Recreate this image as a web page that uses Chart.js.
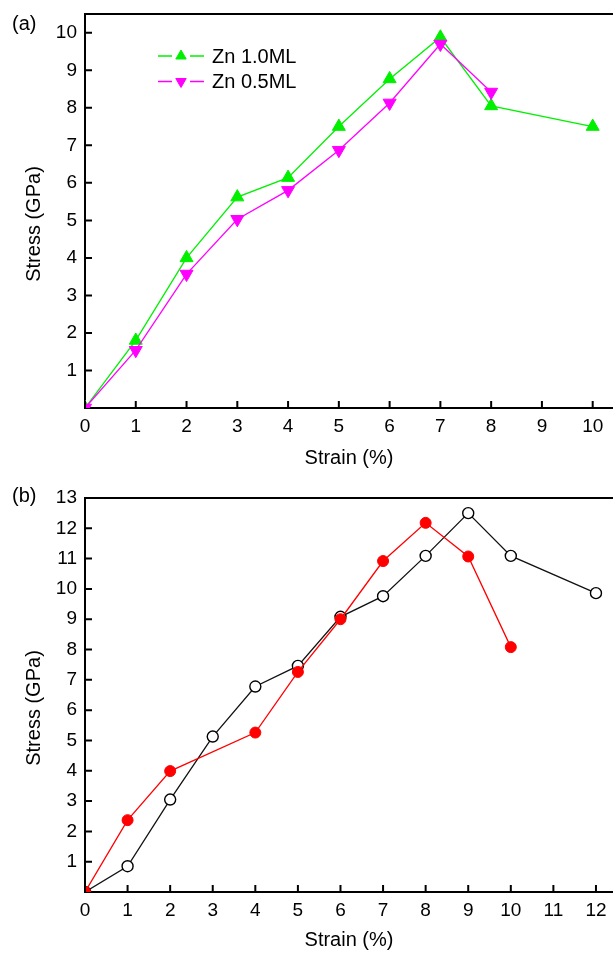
<!DOCTYPE html>
<html>
<head>
<meta charset="utf-8">
<script src="https://cdn.jsdelivr.net/npm/chart.js@4.4.1/dist/chart.umd.min.js"></script>
<style>
  body { margin: 0; background: #fff; }
  #wrap { position: relative; width: 613px; height: 954px; overflow: hidden; }
  canvas { position: absolute; left: 0; }
  .lab { position: absolute; left: 12px; font: 20px "Liberation Sans", Arial, sans-serif; line-height: 20px; color: #000; }
</style>
</head>
<body>
<div id="wrap">
  <canvas id="chartA" width="613" height="472" style="top:0"></canvas>
  <canvas id="chartB" width="613" height="482" style="top:472px"></canvas>
  <div class="lab" style="top:13px">(a)</div>
  <div class="lab" style="top:485px">(b)</div>
</div>
<script>
// panel (a) - Zn
const zn10Strain = [0, 1, 2, 3, 4, 5, 6, 7, 8, 10];
const zn10Stress = [0, 1.8, 4.0, 5.62, 6.14, 7.5, 8.77, 9.88, 8.05, 7.5];
const zn05Strain = [0, 1, 2, 3, 4, 5, 6, 7, 8];
const zn05Stress = [0, 1.54, 3.57, 5.03, 5.8, 6.87, 8.13, 9.7, 8.42];

// panel (b) - Mg
const mg10Strain = [0, 1, 2, 3, 4, 5, 6, 7, 8, 9, 10, 12];
const mg10Stress = [0, 0.85, 3.05, 5.13, 6.78, 7.46, 9.08, 9.76, 11.09, 12.5, 11.09, 9.86];
const mg05Strain = [0, 1, 2, 4, 5, 6, 7, 8, 9, 10];
const mg05Stress = [0, 2.37, 3.99, 5.26, 7.26, 9.0, 10.92, 12.18, 11.07, 8.08];

// tick labels
const aXTicks = [0, 1, 2, 3, 4, 5, 6, 7, 8, 9, 10];
const aYTicks = [1, 2, 3, 4, 5, 6, 7, 8, 9, 10];
const bXTicks = [0, 1, 2, 3, 4, 5, 6, 7, 8, 9, 10, 11, 12];
const bYTicks = [1, 2, 3, 4, 5, 6, 7, 8, 9, 10, 11, 12, 13];

const FONT = '"Liberation Sans", Arial, Helvetica, sans-serif';
Chart.defaults.font.family = FONT;
Chart.defaults.color = '#000';

function pts(xs, ys) {
  return xs.map((x, i) => ({ x: x, y: ys[i] }));
}

function noPad(s) {
  s.paddingTop = 0;
  s.paddingBottom = 0;
  s.paddingLeft = 0;
  s.paddingRight = 0;
}

function drawMarker(ctx, ds, cx, cy, r) {
  ctx.save();
  ctx.fillStyle = ds.pointBackgroundColor;
  ctx.strokeStyle = ds.pointBorderColor;
  ctx.lineWidth = ds.pointBorderWidth;
  ctx.beginPath();
  if (ds.pointStyle === 'triangle') {
    let rad = (ds.pointRotation || 0) * Math.PI / 180;
    for (let k = 0; k < 3; k++) {
      const px = cx + Math.sin(rad) * r, py = cy - Math.cos(rad) * r;
      if (k === 0) ctx.moveTo(px, py); else ctx.lineTo(px, py);
      rad += 2 * Math.PI / 3;
    }
    ctx.closePath();
  } else {
    ctx.arc(cx, cy, r, 0, Math.PI * 2);
  }
  ctx.fill();
  ctx.stroke();
  ctx.restore();
}

// top border, inward ticks, y title and the line+marker legend
const framePlugin = {
  id: 'frame',
  afterDraw(chart, args, opts) {
    const { ctx, chartArea: a, scales: { x, y } } = chart;
    ctx.save();
    ctx.strokeStyle = '#000';
    ctx.lineWidth = 2;
    ctx.beginPath();
    ctx.moveTo(a.left - 1, a.top);
    ctx.lineTo(a.right, a.top);
    x.ticks.forEach((t, i) => {
      const px = x.getPixelForTick(i);
      ctx.moveTo(px, a.bottom);
      ctx.lineTo(px, a.bottom - 7);
    });
    y.ticks.forEach((t, i) => {
      const py = y.getPixelForTick(i);
      ctx.moveTo(a.left, py);
      ctx.lineTo(a.left + 7, py);
    });
    ctx.stroke();

    ctx.fillStyle = '#000';
    ctx.font = '20px ' + FONT;
    ctx.textAlign = 'center';
    ctx.textBaseline = 'middle';
    ctx.save();
    ctx.translate(34, (a.top + a.bottom) / 2 + 13);
    ctx.rotate(-Math.PI / 2);
    ctx.fillText(opts.yTitle, 0, 0);
    ctx.restore();

    const lg = opts.legend;
    ctx.textAlign = 'left';
    lg.order.forEach((di, row) => {
      const ds = chart.data.datasets[di];
      const ly = lg.top + row * lg.gap;
      const xm = (lg.x0 + lg.x1) / 2;
      const g = lg.r + 3;
      ctx.strokeStyle = ds.borderColor;
      ctx.lineWidth = ds.borderWidth;
      ctx.beginPath();
      ctx.moveTo(lg.x0, ly);
      ctx.lineTo(xm - g, ly);
      ctx.moveTo(xm + g, ly);
      ctx.lineTo(lg.x1, ly);
      ctx.stroke();
      drawMarker(ctx, ds, xm, ly, lg.r);
      ctx.fillStyle = '#000';
      ctx.fillText(ds.label, lg.xt, ly + 1);
    });
    ctx.restore();
  }
};

function makeChart(id, datasets, xMax, yMax, xTicks, yTicks, padTop, xAxisH, legend) {
  return new Chart(document.getElementById(id), {
    type: 'line',
    data: { datasets: datasets },
    options: {
      responsive: false,
      animation: false,
      layout: { autoPadding: false, padding: { top: padTop, right: 0, left: 0, bottom: 0 } },
      plugins: {
        legend: { display: false },
        tooltip: { enabled: false },
        frame: { yTitle: 'Stress (GPa)', legend: legend }
      },
      scales: {
        x: {
          type: 'linear',
          min: 0,
          max: xMax,
          afterBuildTicks: s => { s.ticks = xTicks.map(v => ({ value: v })); },
          afterFit: s => { s.height = xAxisH; noPad(s); },
          grid: { display: false, drawTicks: false },
          border: { display: true, color: '#000', width: 2 },
          ticks: { padding: 7, font: { size: 19 }, maxRotation: 0, autoSkip: false },
          title: { display: true, text: 'Strain (%)', font: { size: 20 }, padding: { top: 0, bottom: 2 } }
        },
        y: {
          min: 0,
          max: yMax,
          afterBuildTicks: s => { s.ticks = yTicks.map(v => ({ value: v })); },
          afterFit: s => { s.width = 85; noPad(s); },
          grid: { display: false, drawTicks: false },
          border: { display: true, color: '#000', width: 2 },
          ticks: { padding: 8, font: { size: 19 }, autoSkip: false }
        }
      }
    },
    plugins: [framePlugin]
  });
}

makeChart('chartA', [
  {
    label: 'Zn 1.0ML',
    data: pts(zn10Strain, zn10Stress),
    borderColor: '#00f000',
    borderWidth: 1.3,
    pointStyle: 'triangle',
    pointRadius: 7.5,
    pointBackgroundColor: '#00f000',
    pointBorderColor: '#00f000',
    pointBorderWidth: 1,
    order: 1
  },
  {
    label: 'Zn 0.5ML',
    data: pts(zn05Strain, zn05Stress),
    borderColor: '#ff00ff',
    borderWidth: 1.3,
    pointStyle: 'triangle',
    pointRotation: 180,
    pointRadius: 7.5,
    pointBackgroundColor: '#ff00ff',
    pointBorderColor: '#ff00ff',
    pointBorderWidth: 1,
    order: 0
  }
], 10.4, 10.5, aXTicks, aYTicks, 14, 64, { order: [0, 1], x0: 158, x1: 204, xt: 212, top: 56, gap: 25.5, r: 6 });

makeChart('chartB', [
  {
    label: 'Mg 1.0ML',
    data: pts(mg10Strain, mg10Stress),
    borderColor: '#111',
    borderWidth: 1.3,
    pointStyle: 'circle',
    pointRadius: 5.5,
    pointBackgroundColor: '#fff',
    pointBorderColor: '#000',
    pointBorderWidth: 1.4,
    order: 1
  },
  {
    label: 'Mg 0.5ML',
    data: pts(mg05Strain, mg05Stress),
    borderColor: '#ff0000',
    borderWidth: 1.3,
    pointStyle: 'circle',
    pointRadius: 5.5,
    pointBackgroundColor: '#ff0000',
    pointBorderColor: '#ff0000',
    pointBorderWidth: 1,
    order: 0
  }
], 12.4, 13, bXTicks, bYTicks, 26, 62, { order: [0, 1], x0: 136, x1: 183, xt: 189, top: 537, gap: 22, r: 5 });
</script>
</body>
</html>
